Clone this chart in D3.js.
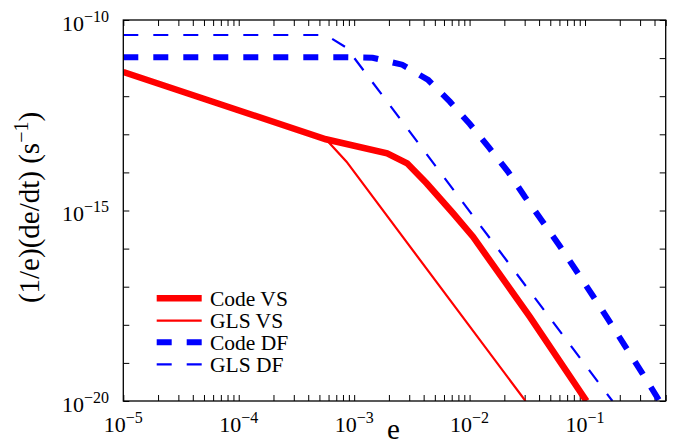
<!DOCTYPE html>
<html>
<head>
<meta charset="utf-8">
<script src="https://cdn.jsdelivr.net/npm/d3@7/dist/d3.min.js"></script>
<style>
  html, body { margin: 0; padding: 0; background: #fff; }
  svg { display: block; }
</style>
</head>
<body>
<svg id="chart" width="686" height="445" font-family="'Liberation Serif', 'Times New Roman', Times, 'DejaVu Serif', serif"></svg>
<script>
// Eccentricity values (e) and decay rates (1/e)(de/dt) in s^-1
const codeVS_e = [1e-5, 5.69e-4, 1.93e-3, 2.88e-3, 4.24e-3, 7.16e-3, 1.07e-2, 2.08e-2, 3.33e-2, 0.103];
const codeVS_v = [4.315e-12, 7.40e-14, 3.17e-14, 1.73e-14, 5.18e-15, 8.59e-16, 2.05e-16, 1.20e-17, 1.62e-18, 1e-20];

const glsVS_e = [1e-5, 5.69e-4, 8.59e-4, 3.05e-2];
const glsVS_v = [4.315e-12, 7.40e-14, 1.91e-14, 1e-20];

const codeDF_e = [1e-5, 8.59e-4, 1.445e-3, 2.61e-3, 4.38e-3, 6.75e-3, 1.005e-2, 1.476e-2, 2.15e-2,
                  3.01e-2, 4.25e-2, 6.04e-2, 8.43e-2, 0.1172, 0.1633, 0.314, 0.4416];
const codeDF_v = [1.05e-11, 1.05e-11, 1.023e-11, 6.71e-12, 2.66e-12, 7.18e-13, 1.86e-13, 4.45e-14, 1.05e-14,
                  2.30e-15, 5.30e-16, 1.17e-16, 2.58e-17, 5.70e-18, 1.205e-18, 5.33e-20, 1e-20];

const glsDF_e = [1e-5, 5.69e-4, 8.59e-4, 0.1726];
const glsDF_v = [4.04e-11, 4.04e-11, 1.87e-11, 1e-20];

const seriesNames = ["Code VS", "GLS VS", "Code DF", "GLS DF"];

// Axis tick settings
const xMajorExps = [-5, -4, -3, -2, -1];
const yLabelExps = [-10, -15, -20];
const yTickExps = [-20, -19, -18, -17, -16, -15, -14, -13, -12, -11, -10];

const svg = d3.select("#chart");
const W = 686, H = 445;
const plot = { left: 123.3, right: 665.7, top: 20, bottom: 401 };

const x = d3.scaleLog().domain([1e-5, 0.5]).range([plot.left, plot.right]);
const y = d3.scaleLog().domain([1e-20, 1e-10]).range([plot.bottom, plot.top]);

svg.append("rect").attr("width", W).attr("height", H).attr("fill", "#fff");

svg.append("defs").append("clipPath").attr("id", "plotClip")
  .append("rect")
  .attr("x", plot.left).attr("y", plot.top)
  .attr("width", plot.right - plot.left).attr("height", plot.bottom - plot.top);

// x ticks: every integer multiple within each decade
const xTicks = [];
for (let p = -5; p <= -1; p++) {
  for (let k = 1; k <= 9; k++) {
    const v = k * Math.pow(10, p);
    if (v <= 0.5 + 1e-12) xTicks.push(v);
  }
}
const yTicks = yTickExps.map(p => Math.pow(10, p));

function styleAxis(g) {
  g.attr("font-family", null);
  g.selectAll(".domain").remove();
  g.selectAll(".tick line").attr("stroke", "#000").attr("stroke-width", 1);
  g.selectAll(".tick text").remove();
}

const TICK = 6;
svg.append("g").attr("transform", `translate(0,${plot.bottom})`)
  .call(d3.axisBottom(x).tickValues(xTicks).tickSizeInner(-TICK).tickSizeOuter(0).tickFormat(""))
  .call(styleAxis);
svg.append("g").attr("transform", `translate(0,${plot.top})`)
  .call(d3.axisTop(x).tickValues(xTicks).tickSizeInner(-TICK).tickSizeOuter(0).tickFormat(""))
  .call(styleAxis);
svg.append("g").attr("transform", `translate(${plot.left},0)`)
  .call(d3.axisLeft(y).tickValues(yTicks).tickSizeInner(-TICK).tickSizeOuter(0).tickFormat(""))
  .call(styleAxis);
svg.append("g").attr("transform", `translate(${plot.right},0)`)
  .call(d3.axisRight(y).tickValues(yTicks).tickSizeInner(-TICK).tickSizeOuter(0).tickFormat(""))
  .call(styleAxis);

// Data lines
const line = d3.line().x(d => x(d[0])).y(d => y(d[1])).curve(d3.curveLinear);
const zip = (a, b) => a.map((v, i) => [v, b[i]]);

const series = [
  { name: seriesNames[0], data: zip(codeVS_e, codeVS_v), color: "#ff0000", width: 6.5, dash: null },
  { name: seriesNames[1], data: zip(glsVS_e, glsVS_v), color: "#ff0000", width: 2.2, dash: null },
  { name: seriesNames[2], data: zip(codeDF_e, codeDF_v), color: "#0000ff", width: 6, dash: "15,15" },
  { name: seriesNames[3], data: zip(glsDF_e, glsDF_v), color: "#0000ff", width: 2.2, dash: "15,15" }
];

const linesG = svg.append("g").attr("clip-path", "url(#plotClip)");
series.forEach(s => {
  linesG.append("path")
    .datum(s.data)
    .attr("d", line)
    .attr("fill", "none")
    .attr("stroke", s.color)
    .attr("stroke-width", s.width)
    .attr("stroke-linejoin", "miter")
    .attr("stroke-dasharray", s.dash);
});

// Plot box
svg.append("rect")
  .attr("x", plot.left).attr("y", plot.top)
  .attr("width", plot.right - plot.left).attr("height", plot.bottom - plot.top)
  .attr("fill", "none").attr("stroke", "#000").attr("stroke-width", 1.3);

// Power-of-ten tick labels
function powLabel(sel, exp) {
  sel.append("tspan").attr("font-size", 22).text("10");
  sel.append("tspan").attr("font-size", 16).attr("dy", -9).text("\u2212" + Math.abs(exp));
}
xMajorExps.forEach(p => {
  const t = svg.append("text")
    .attr("x", x(Math.pow(10, p)))
    .attr("y", plot.bottom + 30.7)
    .attr("text-anchor", "middle");
  powLabel(t, p);
});
yLabelExps.forEach(p => {
  const t = svg.append("text")
    .attr("x", 109)
    .attr("y", y(Math.pow(10, p)) + 10.7)
    .attr("text-anchor", "end");
  powLabel(t, p);
});

// Axis titles
svg.append("text")
  .attr("x", (plot.left + plot.right) / 2 - 1)
  .attr("y", 439)
  .attr("text-anchor", "middle")
  .attr("font-size", 29)
  .text("e");

const yTitle = svg.append("text")
  .attr("transform", `translate(39,${(plot.top + plot.bottom) / 2 - 3}) rotate(-90)`)
  .attr("text-anchor", "middle")
  .attr("font-size", 29);
yTitle.append("tspan").text("(1/e)(de/dt) (s");
yTitle.append("tspan").attr("font-size", 20).attr("dy", -11).text("\u22121");
yTitle.append("tspan").attr("dy", 11).text(")");

// Legend
const legend = svg.append("g");
const legendRows = [298.3, 320.7, 342.3, 364.3];
series.forEach((s, i) => {
  const ly = legendRows[i];
  legend.append("line")
    .attr("x1", 156.7).attr("x2", 201.7)
    .attr("y1", ly).attr("y2", ly)
    .attr("stroke", s.color)
    .attr("stroke-width", s.width)
    .attr("stroke-dasharray", s.dash);
  legend.append("text")
    .attr("x", 210)
    .attr("y", ly + 7.5)
    .attr("font-size", 21.5)
    .text(s.name);
});
</script>
</body>
</html>
